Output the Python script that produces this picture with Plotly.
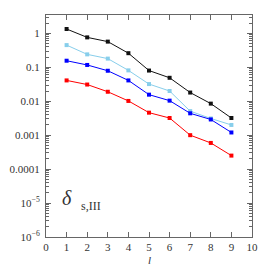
import plotly.graph_objects as go

ell = [1, 2, 3, 4, 5, 6, 7, 8, 9]
black_vals = [1.34, 0.76, 0.57, 0.26, 0.08, 0.049, 0.018, 0.0085, 0.0032]
skyblue_vals = [0.45, 0.24, 0.18, 0.081, 0.032, 0.020, 0.0051, 0.0031, 0.0020]
blue_vals = [0.156, 0.117, 0.079, 0.041, 0.0156, 0.0104, 0.0044, 0.0029, 0.0012]
red_vals = [0.041, 0.031, 0.019, 0.0102, 0.0046, 0.0032, 0.0010, 0.00059, 0.00025]

ytick_vals = [1, 0.1, 0.01, 0.001, 0.0001, 1e-5, 1e-6]
ytick_text = ["1", "0.1", "0.01", "0.001", "0.0001", "10<sup>−5</sup>", "10<sup>−6</sup>"]
xtick_vals = list(range(0, 11))

series = [
    (black_vals, "#111111"),
    (skyblue_vals, "#87CEEB"),
    (blue_vals, "#0000FF"),
    (red_vals, "#FF0000"),
]

fig = go.Figure()
for vals, col in series:
    fig.add_trace(go.Scatter(
        x=ell, y=vals, mode="lines+markers",
        line=dict(color=col, width=1),
        marker=dict(symbol="square", size=4, color=col),
        showlegend=False,
    ))

font = "Liberation Serif, DejaVu Serif, serif"
axcol = "#666666"

fig.update_layout(
    width=266, height=266,
    margin=dict(l=46, r=14, t=15, b=29),
    paper_bgcolor="white", plot_bgcolor="white",
    font=dict(family=font, size=11, color="#333333"),
    xaxis=dict(
        range=[0, 10], tickvals=xtick_vals, ticks="inside", ticklen=5,
        tickcolor=axcol, showline=True, linecolor=axcol, linewidth=1,
        mirror="allticks", showgrid=False, zeroline=False, automargin=False,
        tickfont=dict(size=11, family=font),
    ),
    yaxis=dict(
        type="log", range=[-6, 0.54], tickvals=ytick_vals, ticktext=ytick_text,
        ticks="inside", ticklen=5, tickcolor=axcol, showline=True,
        linecolor=axcol, linewidth=1, mirror="allticks", showgrid=False,
        zeroline=False, automargin=False, ticklabelstandoff=3,
        tickfont=dict(size=11, family=font),
        minor=dict(ticks="inside", ticklen=3, tickcolor=axcol, dtick="D1", showgrid=False),
    ),
)

fig.add_annotation(
    x=0.068, y=0.176, xref="paper", yref="paper", showarrow=False,
    text="<i>δ</i>", font=dict(size=20, family=font, color="#333333"),
    xanchor="left", yanchor="middle",
)
fig.add_annotation(
    x=0.16, y=0.14, xref="paper", yref="paper", showarrow=False,
    text="s,III", font=dict(size=12, family=font, color="#333333"),
    xanchor="left", yanchor="middle",
)
fig.add_annotation(
    x=0.5, y=-0.074, xref="paper", yref="paper", showarrow=False,
    text="<i>l</i>", font=dict(size=11, family=font, color="#333333"),
    xanchor="center", yanchor="top", borderpad=0,
)

fig.write_html(
    "out.html",
    config={"displayModeBar": False},
    post_script="document.body.style.margin='0';document.body.style.overflow='hidden';",
)
